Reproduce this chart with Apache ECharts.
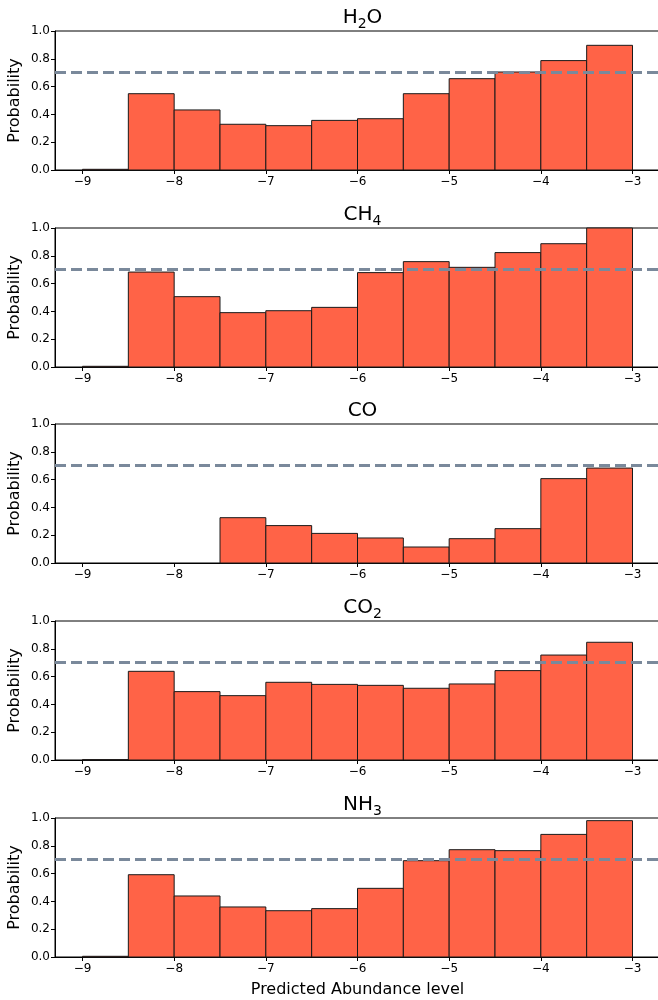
<!DOCTYPE html>
<html>
<head>
<meta charset="utf-8">
<script src="https://cdn.jsdelivr.net/npm/echarts@6/dist/echarts.min.js"></script>
<style>
  html, body { margin: 0; padding: 0; background: #fff; }
  #chart { width: 658px; height: 1000px; }
</style>
</head>
<body>
<div id="chart"></div>
<script>
// bin edges (width 0.5)
const binEdges = [-9, -8.5, -8, -7.5, -7, -6.5, -6, -5.5, -5, -4.5, -4, -3.5, -3]
const xTicks = [-9, -8, -7, -6, -5, -4, -3]
const threshold = 0.7

// probabilities per bin
const h2o = [0.005, 0.549, 0.432, 0.329, 0.319, 0.357, 0.369, 0.549, 0.657, 0.705, 0.787, 0.897]
const ch4 = [0.005, 0.683, 0.506, 0.391, 0.405, 0.429, 0.679, 0.758, 0.717, 0.823, 0.887, 1.0]
const co = [0, 0, 0, 0.326, 0.269, 0.213, 0.180, 0.115, 0.175, 0.247, 0.607, 0.683]
const co2 = [0.003, 0.638, 0.492, 0.463, 0.559, 0.544, 0.537, 0.516, 0.547, 0.643, 0.755, 0.847]
const nh3 = [0.005, 0.592, 0.439, 0.360, 0.333, 0.348, 0.494, 0.693, 0.772, 0.765, 0.882, 0.981]

// titles, rich text for the subscripts
const panels = [
  { title: '{n|H}{s|2}{n|O}', values: h2o },
  { title: '{n|CH}{s|4}', values: ch4 },
  { title: '{n|CO}', values: co },
  { title: '{n|CO}{s|2}', values: co2 },
  { title: '{n|NH}{s|3}', values: nh3 }
]

const font = 'DejaVu Sans'
const gridTops = [31, 228, 424, 621, 818]
const gridLeft = 55
const gridWidth = 605
const gridHeight = 139
const minus = v => String(v).replace('-', '\u2212')

let option = {
  backgroundColor: '#fff',
  animation: false,
  title: [],
  grid: [],
  xAxis: [],
  yAxis: [],
  series: []
}

panels.forEach((p, i) => {
  option.title.push({
    text: p.title,
    left: gridLeft + gridWidth / 2,
    top: gridTops[i] - 31,
    textAlign: 'center',
    textStyle: {
      rich: {
        n: { fontFamily: font, fontSize: 20, fontWeight: 'normal', color: '#000', lineHeight: 26, verticalAlign: 'middle' },
        s: { fontFamily: font, fontSize: 14, fontWeight: 'normal', color: '#000', lineHeight: 16, verticalAlign: 'bottom' }
      }
    }
  })
  option.grid.push({
    left: gridLeft,
    top: gridTops[i],
    width: gridWidth,
    height: gridHeight,
    outerBoundsMode: 'none',
    containLabel: false,
    show: true,
    borderColor: '#000',
    borderWidth: 1,
    backgroundColor: 'transparent'
  })
  option.xAxis.push({
    type: 'value',
    gridIndex: i,
    min: -9.3,
    max: -2.7,
    name: i === panels.length - 1 ? 'Predicted Abundance level' : '',
    nameLocation: 'middle',
    nameGap: 25,
    nameTextStyle: { fontFamily: font, fontSize: 16, color: '#000' },
    splitLine: { show: false },
    axisLine: { show: true, onZero: false, lineStyle: { color: '#000', width: 1 } },
    axisTick: { show: true, length: 4, customValues: xTicks, lineStyle: { color: '#000' } },
    axisLabel: {
      customValues: xTicks,
      margin: 6,
      fontFamily: font,
      fontSize: 12,
      color: '#000',
      formatter: minus
    }
  })
  option.yAxis.push({
    type: 'value',
    gridIndex: i,
    min: 0,
    max: 1,
    interval: 0.2,
    name: 'Probability',
    nameLocation: 'middle',
    nameRotate: 90,
    nameGap: 32,
    nameMoveOverlap: false,
    nameTextStyle: { fontFamily: font, fontSize: 16, color: '#000' },
    splitLine: { show: false },
    axisLine: { show: true, lineStyle: { color: '#000', width: 1 } },
    axisTick: { show: true, length: 4, lineStyle: { color: '#000' } },
    axisLabel: {
      margin: 5,
      fontFamily: font,
      fontSize: 12,
      color: '#000',
      formatter: v => v.toFixed(1)
    }
  })
  option.series.push({
    type: 'custom',
    xAxisIndex: i,
    yAxisIndex: i,
    data: p.values.map((v, k) => [binEdges[k], binEdges[k + 1], v]),
    encode: { x: [0, 1], y: 2 },
    renderItem(params, api) {
      let y = api.value(2)
      if (y <= 0) return
      let p0 = api.coord([api.value(0), y])
      let p1 = api.coord([api.value(1), 0])
      return {
        type: 'rect',
        shape: { x: p0[0], y: p0[1], width: p1[0] - p0[0], height: p1[1] - p0[1] },
        style: { fill: '#ff6347', stroke: '#1a1a1a', lineWidth: 1 }
      }
    },
    markLine: {
      silent: true,
      symbol: 'none',
      z: 10,
      label: { show: false },
      lineStyle: { color: '#7a899b', width: 3, type: [11, 5] },
      data: [{ yAxis: threshold }]
    }
  })
})

let myChart = echarts.init(document.getElementById('chart'), null, { renderer: 'canvas' })
myChart.setOption(option)
</script>
</body>
</html>
